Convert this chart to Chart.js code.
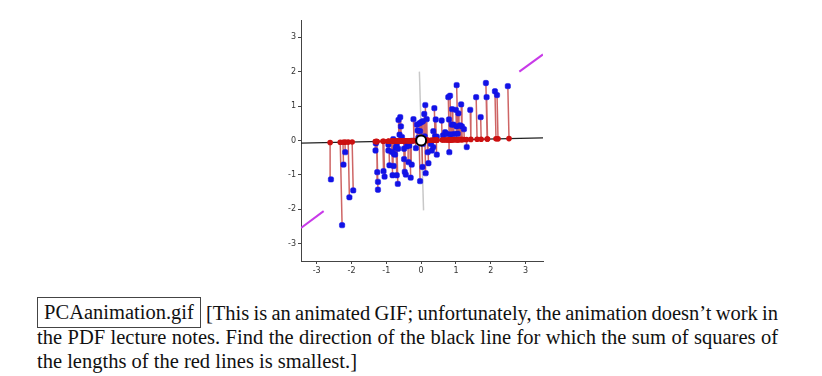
<!DOCTYPE html>
<html>
<head>
<meta charset="utf-8">
<script src="https://cdn.jsdelivr.net/npm/chart.js@4.4.1/dist/chart.umd.min.js"></script>
<style>
  html, body { margin:0; padding:0; background:#fff; width:822px; height:376px; overflow:hidden; }
  #wrap { position:absolute; left:0; top:0; width:822px; height:290px; }
  .txt { position:absolute; font-family:"Liberation Serif", "Times New Roman", serif; font-size:20.5px; color:#111; line-height:24px; white-space:nowrap; }
  #box { position:absolute; left:37px; top:297px; width:164px; height:31px; border:1px solid #444; box-sizing:border-box;
         font-family:"Liberation Serif", "Times New Roman", serif; font-size:20.5px; line-height:29px; text-align:center; color:#111; white-space:nowrap; }
</style>
</head>
<body>
<div id="wrap"><canvas id="c" width="822" height="290"></canvas></div>
<div id="box">PCAanimation.gif</div>
<div class="txt fit" data-w="572" style="left:206px; top:301px;">[This is an animated GIF; unfortunately, the animation doesn’t work in</div>
<div class="txt fit" data-w="741" style="left:37px; top:325px;">the PDF lecture notes. Find the direction of the black line for which the sum of squares of</div>
<div class="txt" style="left:37px; top:349px;">the lengths of the red lines is smallest.]</div>
<script>
// fit the justified lines to their widths
document.querySelectorAll('.fit').forEach(el => {
  const target = Number(el.dataset.w);
  const w = el.getBoundingClientRect().width;
  const spaces = (el.textContent.match(/ /g) || []).length;
  el.style.wordSpacing = ((target - w) / spaces) + 'px';
});

// ---- data ----
const blueX = [
  -2.59,-2.27,-2.23,-2.18,-2.06,-1.95,
  -1.31,-1.30,-1.26,-1.24,-1.24,
  -1.08,-1.05,
  -0.94,-0.94,-0.91,-0.82,-0.79,-0.78,-0.80,-0.73,-0.66,-0.70,-0.67,-0.75,-0.70,-0.84,
  -0.65,-0.60,-0.58,-0.62,-0.55,
  -0.49,-0.49,-0.47,-0.44,-0.41,-0.36,-0.34,-0.30,-0.27,-0.26,-0.22,-0.38,
  -0.12,-0.10,-0.05,-0.03,0.00,0.05,0.09,0.12,0.16,-0.03,0.04,0.13,0.21,-0.15,0.05,0.19,0.10,-0.08,
  0.38,0.42,0.35,0.40,0.45,0.31,0.35,0.45,0.28,
  0.59,0.63,0.69,0.74,0.78,0.83,0.80,0.88,0.89,0.93,0.96,1.02,1.00,1.02,1.07,1.12,1.15,1.17,1.23,0.81,1.31,0.85,1.05,
  1.41,1.58,1.71,1.86,1.88,2.12,2.18,2.49
];
const blueY = [
  -1.13,-2.46,-0.70,-0.34,-1.65,-1.45,
  -0.29,-0.08,-0.92,-1.20,-1.43,
  -0.89,-1.05,
  -0.12,-0.29,-0.72,-1.01,-0.74,-0.39,0.04,-0.21,-0.24,-1.01,-1.26,-0.41,-0.12,-0.33,
  0.60,0.68,0.41,0.17,0.10,
  -0.54,-0.24,-0.91,-0.99,-0.17,-0.63,-0.15,-1.08,-0.70,-0.01,0.62,-0.05,
  0.46,0.29,0.50,0.27,0.53,0.56,0.77,1.03,0.62,-1.18,-0.77,-0.95,-0.66,-0.22,-0.10,-0.34,0.12,0.08,
  0.94,0.61,0.27,0.12,0.11,-0.29,-0.19,-0.41,-0.10,
  0.58,0.15,0.24,0.19,1.26,1.30,0.61,0.46,0.91,0.46,0.19,1.61,0.89,0.41,0.79,0.44,1.05,0.41,0.33,-0.34,-0.19,0.18,0.20,
  0.89,1.26,0.68,1.67,1.26,1.43,1.32,1.58
];
const lineSlope = 0.022;            // slope of the black line in this frame
const blackLineX = [-3.45, 3.5];
const grayLineX = [-0.05, 0.07];
const grayLineY = [2.0, -2.03];
const magentaLowX = [-3.45, -2.80];
const magentaLowY = [-2.54, -2.05];
const magentaHighX = [2.82, 3.5];
const magentaHighY = [2.00, 2.50];
const xTickLabels = ['-3','-2','-1','0','1','2','3'];
const yTickLabels = ['-3','-2','-1','0','1','2','3'];

// ---- derived marks (projection of each blue point on the black line) ----
const ang = Math.atan(lineSlope), ca = Math.cos(ang), sa = Math.sin(ang);
const bluePts = blueX.map((x,i)=>({x, y: blueY[i]}));
const redPts = bluePts.map(p => { const t = p.x*ca + p.y*sa; return {x: t*ca, y: t*sa}; });
const connectors = [];
bluePts.forEach((p,i)=>{ connectors.push(p, redPts[i], {x: p.x, y: null}); });
const blackLine = blackLineX.map(x => ({x, y: x*lineSlope}));
const grayLine = grayLineX.map((x,i)=>({x, y: grayLineY[i]}));
const magLow = magentaLowX.map((x,i)=>({x, y: magentaLowY[i]}));
const magHigh = magentaHighX.map((x,i)=>({x, y: magentaHighY[i]}));

const tickFont = { family: 'DejaVu Sans', size: 8 };
new Chart(document.getElementById('c'), {
  type: 'scatter',
  data: { datasets: [
    { data: [{x:0,y:0}], pointRadius: 5, pointBackgroundColor:'#fff', pointBorderColor:'#000', pointBorderWidth: 2 },
    { data: redPts, pointRadius: 2.8, pointBackgroundColor:'#cc1010', pointBorderWidth:0 },
    { data: bluePts, pointRadius: 3.1, pointStyle:'rectRounded', pointBackgroundColor:'#1212e6', pointBorderColor:'#1212e6', pointBorderWidth:0.5 },
    { data: connectors, showLine: true, spanGaps: false, pointRadius: 0, borderColor:'rgba(190,50,50,0.75)', borderWidth: 1.5 },
    { data: magLow, showLine: true, pointRadius: 0, borderColor:'#c83ae8', borderWidth: 2 },
    { data: magHigh, showLine: true, pointRadius: 0, borderColor:'#c83ae8', borderWidth: 2 },
    { data: grayLine, showLine: true, pointRadius: 0, borderColor:'#c8c8c8', borderWidth: 1.5 },
    { data: blackLine, showLine: true, pointRadius: 0, borderColor:'#222', borderWidth: 1.2 }
  ]},
  options: {
    responsive: false, animation: false, devicePixelRatio: 1,
    layout: { padding: { left: 271, top: 20, right: 279, bottom: 9 } },
    plugins: { legend: { display:false }, tooltip: { enabled:false } },
    scales: {
      x: { type:'linear', min:-3.45, max:3.5,
           afterFit: s => { s.height = 20; },
           afterBuildTicks: s => { s.ticks = xTickLabels.map(v=>({value: Number(v)})); },
           ticks: { font: tickFont, color:'#333', padding: 2, maxRotation:0, callback: (v)=> xTickLabels.find(t=>Number(t)===v) },
           grid: { display:true, drawOnChartArea:false, drawTicks:true, tickLength:3, color:'#444' },
           border: { display:true, color:'#444', width:1 } },
      y: { type:'linear', min:-3.5, max:3.5,
           afterFit: s => { s.width = 30; },
           afterBuildTicks: s => { s.ticks = yTickLabels.map(v=>({value: Number(v)})); },
           ticks: { font: tickFont, color:'#333', padding: 2, callback: (v)=> yTickLabels.find(t=>Number(t)===v) },
           grid: { display:true, drawOnChartArea:false, drawTicks:true, tickLength:3, color:'#444' },
           border: { display:true, color:'#444', width:1 } }
    }
  }
});
</script>
</body>
</html>
